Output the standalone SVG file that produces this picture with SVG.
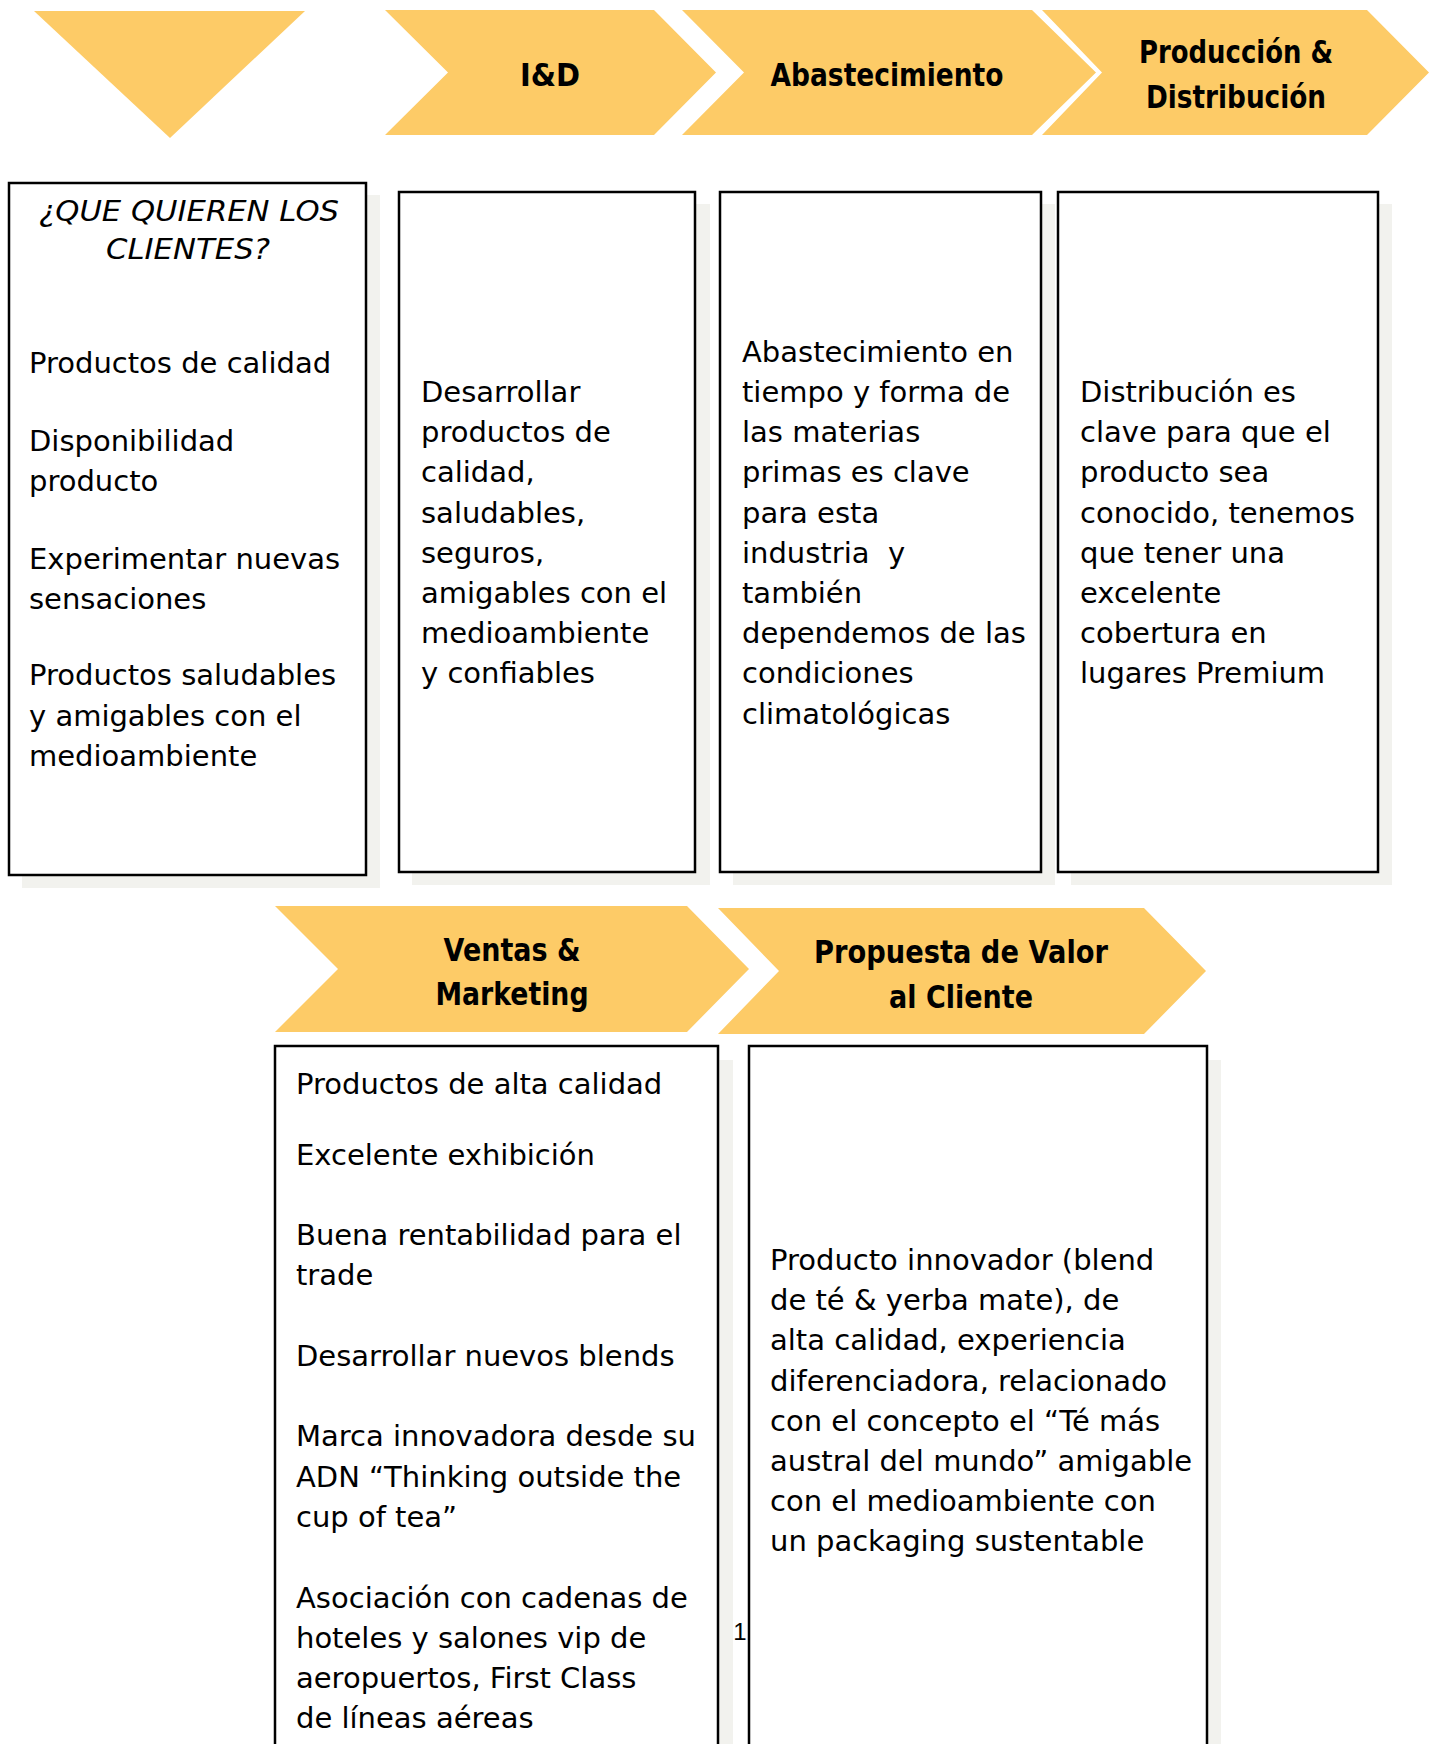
<svg xmlns="http://www.w3.org/2000/svg" width="1432" height="1744" viewBox="0 0 1432 1744">
<style>
.chev{fill:#FDCB67;}
.shadow{fill:#F2F2EE;}
.box{fill:#FFFFFF;stroke:#000000;stroke-width:2.5;}
.hdr{font-family:"DejaVu Sans","Noto Sans",sans-serif;font-weight:bold;font-size:32px;fill:#000;text-anchor:middle;}
.body{font-family:"DejaVu Sans","Noto Sans",sans-serif;font-size:29px;fill:#000;}
.q{font-family:"DejaVu Sans","Noto Sans",sans-serif;font-style:italic;font-size:28px;fill:#000;text-anchor:middle;}
.pg{font-family:"Liberation Sans",Arial,sans-serif;font-size:24px;fill:#000;text-anchor:middle;}
</style>
<rect width="1432" height="1744" fill="#FFFFFF"/>

<g id="connectors"/>

<g id="node-triangle">
<polygon class="chev" points="34,11 305,11 170,138"/>
</g>

<g id="node-id-arrow">
<polygon class="chev" points="385,10 654,10 716,72.5 654,135 385,135 448,72.5"/>
<text class="hdr" x="550" y="86" textLength="60" lengthAdjust="spacingAndGlyphs">I&amp;D</text>
</g>

<g id="node-abastecimiento-arrow">
<polygon class="chev" points="682,10 1032,10 1096,72.5 1032,135 682,135 744,72.5"/>
<text class="hdr" x="887" y="86" textLength="233" lengthAdjust="spacingAndGlyphs">Abastecimiento</text>
</g>

<g id="node-produccion-arrow">
<polygon class="chev" points="1042,10 1367,10 1429,72.5 1367,135 1042,135 1102,72.5"/>
<text class="hdr" x="1236" y="63" textLength="194" lengthAdjust="spacingAndGlyphs">Producción &amp;</text>
<text class="hdr" x="1236" y="108" textLength="180" lengthAdjust="spacingAndGlyphs">Distribución</text>
</g>

<g id="node-clientes">
<rect class="shadow" x="22" y="195" width="358" height="693"/>
<rect class="box" x="9" y="183" width="357" height="692"/>
<text class="q" x="189" y="221" textLength="300" lengthAdjust="spacingAndGlyphs">¿QUE QUIEREN LOS</text>
<text class="q" x="188" y="259" textLength="164" lengthAdjust="spacingAndGlyphs">CLIENTES?</text>
<text class="body" x="29" y="373">Productos de calidad</text>
<text class="body" x="29" y="451">Disponibilidad</text>
<text class="body" x="29" y="491">producto</text>
<text class="body" x="29" y="569">Experimentar nuevas</text>
<text class="body" x="29" y="609">sensaciones</text>
<text class="body" x="29" y="685">Productos saludables</text>
<text class="body" x="29" y="726">y amigables con el</text>
<text class="body" x="29" y="766">medioambiente</text>
</g>

<g id="node-id-box">
<rect class="shadow" x="412" y="204" width="298" height="681"/>
<rect class="box" x="399" y="192" width="296" height="680"/>
<text class="body" x="421" y="402">Desarrollar</text>
<text class="body" x="421" y="442">productos de</text>
<text class="body" x="421" y="482">calidad,</text>
<text class="body" x="421" y="523">saludables,</text>
<text class="body" x="421" y="563">seguros,</text>
<text class="body" x="421" y="603">amigables con el</text>
<text class="body" x="421" y="643">medioambiente</text>
<text class="body" x="421" y="683">y confiables</text>
</g>

<g id="node-abastecimiento-box">
<rect class="shadow" x="733" y="204" width="322" height="681"/>
<rect class="box" x="720" y="192" width="321" height="680"/>
<text class="body" x="742" y="362">Abastecimiento en</text>
<text class="body" x="742" y="402">tiempo y forma de</text>
<text class="body" x="742" y="442">las materias</text>
<text class="body" x="742" y="482">primas es clave</text>
<text class="body" x="742" y="523">para esta</text>
<text class="body" x="742" y="563" xml:space="preserve">industria  y</text>
<text class="body" x="742" y="603">también</text>
<text class="body" x="742" y="643">dependemos de las</text>
<text class="body" x="742" y="683">condiciones</text>
<text class="body" x="742" y="724">climatológicas</text>
</g>

<g id="node-produccion-box">
<rect class="shadow" x="1071" y="204" width="321" height="681"/>
<rect class="box" x="1058" y="192" width="320" height="680"/>
<text class="body" x="1080" y="402">Distribución es</text>
<text class="body" x="1080" y="442">clave para que el</text>
<text class="body" x="1080" y="482">producto sea</text>
<text class="body" x="1080" y="523">conocido, tenemos</text>
<text class="body" x="1080" y="563">que tener una</text>
<text class="body" x="1080" y="603">excelente</text>
<text class="body" x="1080" y="643">cobertura en</text>
<text class="body" x="1080" y="683">lugares Premium</text>
</g>

<g id="node-ventas-arrow">
<polygon class="chev" points="275,906 687,906 749,969 687,1032 275,1032 338,969"/>
<text class="hdr" x="512" y="961" textLength="137" lengthAdjust="spacingAndGlyphs">Ventas &amp;</text>
<text class="hdr" x="512" y="1005" textLength="153" lengthAdjust="spacingAndGlyphs">Marketing</text>
</g>

<g id="node-propuesta-arrow">
<polygon class="chev" points="718,908 1144,908 1206,971 1144,1034 718,1034 779,971"/>
<text class="hdr" x="961" y="963" textLength="294" lengthAdjust="spacingAndGlyphs">Propuesta de Valor</text>
<text class="hdr" x="961" y="1008" textLength="144" lengthAdjust="spacingAndGlyphs">al Cliente</text>
</g>

<g id="node-ventas-box">
<rect class="shadow" x="289" y="1060" width="444" height="720"/>
<rect class="box" x="275" y="1046" width="443" height="720"/>
<text class="body" x="296" y="1094">Productos de alta calidad</text>
<text class="body" x="296" y="1165">Excelente exhibición</text>
<text class="body" x="296" y="1245">Buena rentabilidad para el</text>
<text class="body" x="296" y="1285">trade</text>
<text class="body" x="296" y="1366">Desarrollar nuevos blends</text>
<text class="body" x="296" y="1446">Marca innovadora desde su</text>
<text class="body" x="296" y="1487">ADN “Thinking outside the</text>
<text class="body" x="296" y="1527">cup of tea”</text>
<text class="body" x="296" y="1608">Asociación con cadenas de</text>
<text class="body" x="296" y="1648">hoteles y salones vip de</text>
<text class="body" x="296" y="1688">aeropuertos, First Class</text>
<text class="body" x="296" y="1728">de líneas aéreas</text>
</g>

<g id="node-propuesta-box">
<rect class="shadow" x="763" y="1060" width="458" height="720"/>
<rect class="box" x="749" y="1046" width="458" height="720"/>
<text class="body" x="770" y="1270">Producto innovador (blend</text>
<text class="body" x="770" y="1310">de té &amp; yerba mate), de</text>
<text class="body" x="770" y="1350">alta calidad, experiencia</text>
<text class="body" x="770" y="1391">diferenciadora, relacionado</text>
<text class="body" x="770" y="1431">con el concepto el “Té más</text>
<text class="body" x="770" y="1471">austral del mundo” amigable</text>
<text class="body" x="770" y="1511">con el medioambiente con</text>
<text class="body" x="770" y="1551">un packaging sustentable</text>
</g>

<text class="pg" x="740" y="1640">1</text>
</svg>
